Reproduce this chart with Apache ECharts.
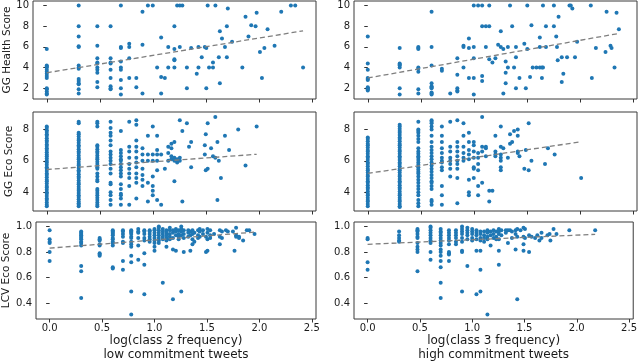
<!DOCTYPE html>
<html><head><meta charset="utf-8">
<script src="https://cdn.jsdelivr.net/npm/echarts@6/dist/echarts.min.js"></script>
<style>html,body{margin:0;padding:0;background:#fff}#c{width:640px;height:363px}</style>
</head><body><div id="c"></div>
<script>
// ---- tick values ----
const xTicks = [0, 0.5, 1.0, 1.5, 2.0, 2.5];
const healthTicks = [2, 4, 6, 8, 10];
const ggEcoTicks = [4, 6, 8];
const lcvTicks = [0.4, 0.6, 0.8, 1.0];

// ---- axis titles ----
const yNames = ['GG Health Score', 'GG Eco Score', 'LCV Eco Score'];
const xNames = ['log(class 2 frequency)\nlow commitment tweets', 'log(class 3 frequency)\nhigh commitment tweets'];

// ---- data: [x, [y values at that x]] ----
const healthLow = [
 [0,[5.8,4.2,4.1,4.0,3.8,3.6,3.4,3.2,3.0,2.0,1.9,1.7,1.5,1.4]],
 [0.301,[10,8,7,6,6.05,4.2,4.0,3.9,2.9,2.7,2.5,2.4,1.9,1.5]],
 [0.477,[8,6.1,4.9,4.5,4.4,4.0,3.8,3.5,2.6,2.1]],
 [0.602,[8,4.9,4.5,4.4,3.8,3.0,2.2,2.0,1.9]],
 [0.699,[10,6.0,5.9,4.6,4.0,3.8,2.8,2.0,1.4]],
 [0.778,[6.3,6.0,4.9,3.0]],
 [0.845,[3.0,2.1]],
 [0.903,[9.4,6.2,1.5]],
 [0.954,[10]],[1.0,[10]],[1.041,[4.0]],
 [1.079,[6.9,3.1,1.5]],[1.114,[3.0]],[1.146,[6.0,4.0]],
 [1.204,[8.0,5.8,4.8,4.7,4.0]],[1.23,[10]],[1.255,[10,6.0]],[1.279,[10]],
 [1.322,[4.0,2.0]],[1.362,[5.9]],[1.415,[3.4]],[1.431,[6.0,4.0]],[1.462,[5.0]],
 [1.491,[6.0]],[1.505,[5.9,2.0]],[1.518,[10]],[1.531,[4.0]],[1.568,[4.5,4.0]],
 [1.591,[10]],[1.623,[5.0]],[1.633,[7.5,2.5]],[1.653,[6.8]],[1.681,[6.0]],
 [1.699,[8.0,5.0]],[1.708,[9.7]],[1.748,[6.5]],[1.845,[4.0]],[1.875,[8.9]],
 [1.903,[7.0]],[1.929,[8.1]],[1.97,[8.0]],[1.98,[9.3]],[2.011,[5.5]],[2.03,[3.0]],
 [2.053,[5.9]],[2.083,[7.7]],[2.149,[6.1]],[2.212,[9.4]],[2.303,[10]],[2.344,[10]],[2.418,[4.0]]
];
const healthHigh = [
 [0,[7.0,4.4,3.8,3.0,2.9,2.8,2.1,2.0,1.9,1.8]],
 [0.301,[5.9,4.4,4.3,4.2,4.0,2.0,1.4]],
 [0.477,[6.0,5.9,5.8,4.0,3.9,3.6,1.9,1.5]],
 [0.602,[9.4,6.0,4.2,2.5,2.2,2.1,2.0,1.6,1.5,1.4]],
 [0.699,[3.9,3.7]],[0.778,[1.5]],[0.845,[4.9,3.3,2.0,1.8,1.7]],
 [0.903,[6.1,6.0,4.0]],[0.954,[6.8,5.9,3.0]],[1.0,[10,6.0,4.9,3.0,1.4]],
 [1.041,[10]],[1.079,[10,8.0,3.2,2.7]],[1.114,[8.0,6.0]],[1.146,[10,8.0,4.8]],
 [1.176,[4.5]],[1.204,[4.9]],[1.23,[6.2]],[1.255,[7.5,6.0]],[1.279,[5.8,1.5]],
 [1.301,[4.6,3.5,2.5]],[1.322,[6.0,4.0]],[1.342,[10]],[1.362,[8.0]],[1.38,[4.0]],
 [1.398,[6.0,5.0,2.0]],[1.431,[3.0]],[1.477,[6.3]],[1.491,[2.0]],[1.505,[10,5.8]],
 [1.531,[3.1]],[1.544,[8.1]],[1.556,[4.0]],[1.591,[4.0]],[1.623,[6.9,6.0,4.0]],
 [1.643,[4.0,3.0]],[1.653,[10,4.0]],[1.681,[8.0,6.0]],[1.756,[10,8.0]],[1.778,[7.0]],
 [1.785,[6.0]],[1.792,[4.7]],[1.8,[8.9]],[1.83,[5.0,2.6]],[1.845,[3.4]],[1.88,[5.0]],
 [1.903,[10]],[1.915,[10]],[1.93,[9.7]],[1.955,[5.0]],[1.975,[6.5]],[2.104,[10]],
 [2.114,[3.0]],[2.152,[5.9]],[2.243,[5.5]],[2.253,[9.4]],[2.29,[6.1]],[2.3,[5.9]],
 [2.328,[4.0]],[2.347,[9.3]],[2.369,[7.7]]
];
const ecoLow = [
 [0,[8.2,8.1,7.95,7.85,7.7,7.6,7.45,7.3,7.2,7.05,6.95,6.8,6.7,6.55,6.4,6.3,6.15,6.0,5.9,5.75,5.6,5.5,5.35,5.2,5.1,4.95,4.8,4.7,4.55,4.4,4.3,4.15,4.0,3.9,3.75,3.6,3.5,3.35,3.2,3.1]],
 [0.301,[8.5,8.4,7.8,7.7,7.55,7.4,7.3,7.15,7.0,6.9,6.75,6.6,6.5,6.35,6.2,6.1,5.95,5.8,5.7,5.55,5.4,5.3,5.15,5.0,4.9,4.75,4.6,4.5,4.35,4.2,4.1,3.95,3.8,3.7,3.55,3.4,3.3,3.2,3.1]],
 [0.477,[8.5,8.4,8.2,7.0,6.9,6.75,6.6,6.5,6.35,6.2,6.1,5.95,5.8,5.6,5.5,5.2,5.0,4.8,4.7,4.2,4.1,3.95,3.8,3.65,3.5,3.35,3.2,3.1]],
 [0.602,[8.5,8.1,7.8,7.6,7.3,7.0,6.6,6.4,6.2,6.0,5.8,5.5,5.2,4.6,4.5,4.0,3.8,3.5,3.2]],
 [0.699,[7.9,6.7,6.5,6.3,6.1,6.0,5.8,5.6,5.4,5.2,5.0,4.5,4.2,3.9,3.8,3.6,3.2]],
 [0.778,[8.5,6.9,6.6,6.2,5.8,5.5,5.2,4.9,4.4,3.2]],
 [0.845,[8.6,8.3,7.3,6.9,6.6,6.2,5.9,5.6,5.2,4.9,4.6,3.6]],
 [0.903,[6.8,6.4,6.0,5.5,5.1,4.8,4.4]],
 [0.954,[7.6,6.4,6.0,4.6,3.4]],
 [1.0,[8.2,6.4,6.0,5.0,4.4,4.1,3.8]],
 [1.041,[7.6,6.7,6.4,6.0,5.4,3.5]],
 [1.079,[6.4,3.2]],[1.114,[5.5]],[1.146,[6.9,6.5,6.0]],[1.176,[7.1,6.8,6.3,6.1]],
 [1.204,[7.2,6.2,6.0,4.7]],[1.23,[5.9,6.1]],[1.255,[8.6,6.2,6.0]],[1.279,[7.9,3.4]],
 [1.322,[8.4]],[1.342,[6.9]],[1.362,[7.2,5.6]],[1.491,[7.0,6.4]],[1.5,[7.7,5.4]],
 [1.518,[8.4,5.5]],[1.55,[6.8]],[1.568,[6.3]],[1.59,[8.8,6.2]],[1.61,[7.2,3.5]],
 [1.623,[6.0]],[1.643,[4.9]],[1.681,[7.6]],[1.72,[6.7]],[1.806,[8.0]],[1.875,[5.7]],[1.98,[8.2]]
];
const ecoHigh = [
 [0,[7.5,7.4,7.25,7.1,7.0,6.85,6.7,6.6,6.45,6.3,6.2,6.05,5.9,5.8,5.65,5.5,5.4,5.25,5.1,5.0,4.85,4.7,4.6,4.45,4.3,4.2,4.05,3.9,3.8,3.65,3.5,3.4,3.25,3.1]],
 [0.301,[8.3,8.2,8.05,7.9,7.8,7.65,7.5,7.4,7.25,7.1,7.0,6.85,6.7,6.6,6.45,6.3,6.2,6.05,5.9,5.8,5.65,5.5,5.4,5.25,5.1,5.0,4.85,4.7,4.6,4.45,4.3,4.2,4.05,3.9,3.8,3.65,3.5,3.4,3.25,3.1,3.05]],
 [0.477,[8.5,8.0,7.9,7.8,7.6,7.4,7.2,6.8,6.6,6.45,6.3,6.2,6.05,5.9,5.75,5.6,5.45,5.3,5.2,5.0,4.8,4.6,4.4,4.2,4.0,3.8,3.5,3.3,3.1]],
 [0.602,[8.6,8.5,8.4,8.2,8.0,7.6,7.2,6.9,6.7,6.5,6.3,6.1,5.9,5.7,5.5,5.3,5.1,4.9,4.7,4.6,4.4,4.2,3.5,3.4,3.2]],
 [0.699,[8.2,7.6,7.2,6.8,6.5,6.2,6.0,5.9,5.6,5.4,4.4,3.8,3.2]],
 [0.778,[8.5,6.9,6.6,6.2,6.0,5.8,5.5,5.0]],
 [0.845,[8.6,7.2,6.9,6.6,6.3,6.0,5.8,5.5,4.9,3.3]],
 [0.903,[8.4,7.6,6.9,6.5,6.2,6.0]],
 [0.954,[7.8,7.2,6.7,6.4,6.1,4.8,4.0,3.8]],
 [1.0,[7.2,7.0,6.6,6.2,5.6,5.5,4.9]],
 [1.041,[6.5,6.2,5.8,5.4,4.4,3.8]],
 [1.079,[8.8,6.9,6.6,4.6]],[1.114,[6.9,6.8,6.3]],[1.146,[4.1,3.4]],[1.176,[4.1]],
 [1.204,[7.6,6.6,6.4,6.3]],[1.255,[8.2,6.9,6.4,6.2,6.0,5.6,5.4]],[1.279,[6.8]],
 [1.322,[6.2]],[1.342,[7.7,7.1]],[1.362,[7.2]],[1.38,[7.9]],[1.415,[8.0,7.6,6.6,6.5]],
 [1.431,[6.3]],[1.477,[5.5]],[1.491,[6.7]],[1.518,[8.4,5.4]],[1.544,[6.0]],
 [1.672,[5.8]],[1.7,[6.8]],[1.763,[6.4]],[2.013,[4.9]]
];
const lcvLow = [
 [0,[0.97,0.90,0.88,0.87,0.80,0.73]],
 [0.301,[0.96,0.95,0.94,0.93,0.92,0.91,0.90,0.88,0.87,0.85,0.69,0.65,0.44]],
 [0.477,[0.91,0.90,0.89,0.86,0.85,0.79,0.78,0.77]],
 [0.602,[0.97,0.96,0.95,0.94,0.93,0.91,0.90,0.88,0.87,0.85,0.68,0.67]],
 [0.699,[0.97,0.96,0.94,0.92,0.88,0.87,0.73,0.66]],
 [0.778,[0.97,0.96,0.95,0.94,0.92,0.91,0.88,0.86,0.84,0.77,0.72,0.49,0.31]],
 [0.845,[0.98,0.96,0.95,0.91,0.85,0.74]],
 [0.903,[0.97,0.96,0.94,0.91,0.89,0.79,0.70,0.47]],
 [0.954,[0.97,0.96,0.94,0.92,0.90,0.88]],
 [1.0,[0.98,0.97,0.95,0.93,0.91,0.89,0.87,0.84,0.81]],
 [1.041,[1.0,0.99,0.97,0.95,0.93,0.91,0.89,0.87]],
 [1.079,[0.98,0.96,0.94,0.92,0.90,0.56]],
 [1.114,[0.97,0.95,0.93,0.91,0.89,0.84]],
 [1.146,[0.99,0.97,0.94,0.92,0.90]],
 [1.176,[0.97,0.95,0.91,0.82,0.43]],
 [1.204,[0.98,0.96,0.93,0.81]],
 [1.23,[0.97,0.94,0.92,0.90]],
 [1.255,[1.0,0.98,0.96,0.93,0.49]],
 [1.279,[0.97,0.94,0.91,0.80]],
 [1.322,[0.97,0.95,0.92]],[1.342,[0.96,0.93,0.81]],[1.362,[0.97,0.94,0.90,0.86]],
 [1.38,[0.95,0.88]],[1.415,[0.97,0.93,0.91]],[1.431,[0.98,0.96,0.92]],[1.462,[0.97,0.94]],
 [1.491,[0.92,0.80]],[1.505,[0.98,0.95,0.90,0.81]],[1.531,[0.97,0.93,0.91]],[1.568,[0.94]],
 [1.623,[0.97,0.92,0.86]],[1.643,[0.96,0.91]],[1.681,[0.97]],[1.699,[0.96]],[1.748,[0.96]],
 [1.763,[0.81]],[1.778,[0.99,0.93,0.92]],[1.806,[0.91,0.92]],[1.845,[0.89]],[1.88,[0.97]],
 [1.903,[0.97]],[1.954,[0.94]]
];
const lcvHigh = [
 [0,[0.91,0.90,0.72,0.66]],
 [0.301,[0.96,0.93,0.91,0.89,0.88]],
 [0.477,[0.98,0.97,0.96,0.94,0.92,0.91,0.87,0.84,0.82,0.80,0.65]],
 [0.602,[1.0,0.99,0.97,0.95,0.93,0.91,0.89,0.87,0.80,0.74]],
 [0.699,[0.98,0.96,0.95,0.93,0.91,0.89,0.87,0.85,0.82,0.80,0.77,0.73,0.68,0.56,0.44]],
 [0.778,[0.97,0.95,0.93,0.91,0.89,0.86,0.80,0.79,0.78,0.73]],
 [0.845,[0.97,0.95,0.93,0.91,0.88,0.86]],
 [0.903,[1.0,0.98,0.96,0.94,0.91,0.88,0.81,0.80,0.49]],
 [0.954,[0.99,0.97,0.95,0.93,0.90,0.69]],
 [1.0,[0.98,0.96,0.94,0.91,0.89]],
 [1.041,[0.97,0.95,0.93,0.90,0.81,0.47]],
 [1.079,[0.96,0.94,0.91,0.89,0.81,0.66,0.49]],
 [1.114,[0.96,0.93,0.91,0.88]],
 [1.146,[0.97,0.95,0.92,0.90,0.31]],
 [1.176,[0.96,0.93,0.85]],
 [1.204,[0.97,0.94,0.91]],
 [1.23,[0.96,0.92,0.90]],
 [1.255,[0.98,0.96,0.94,0.90,0.81,0.70]],
 [1.279,[0.97,0.93]],[1.322,[0.97,0.95]],[1.342,[0.97,0.87]],[1.362,[0.97]],
 [1.38,[0.96,0.91]],[1.415,[0.97,0.94,0.82]],[1.431,[0.98,0.92,0.43]],[1.462,[0.97]],
 [1.491,[0.99,0.92,0.86,0.81]],[1.505,[0.98,0.91]],[1.544,[0.93,0.80]],[1.568,[0.92]],
 [1.602,[0.91]],[1.623,[0.93]],[1.643,[0.89]],[1.663,[0.95,0.91]],[1.72,[0.93]],
 [1.74,[0.94]],[1.748,[0.89]],[1.778,[0.98]],[1.806,[0.94]],[1.929,[0.97]],[2.176,[0.97]]
];

// ---- fitted trend lines (endpoints) ----
const trendHealthLow = [[0, 3.5], [2.418, 7.55]];
const trendHealthHigh = [[0, 3.0], [2.369, 7.3]];
const trendEcoLow = [[0, 5.45], [1.98, 6.42]];
const trendEcoHigh = [[0, 5.2], [2.013, 7.22]];
const trendLcvLow = [[0, 0.83], [1.954, 0.955]];
const trendLcvHigh = [[0, 0.86], [2.176, 0.938]];

const panels = [
  {pts: healthLow, trend: trendHealthLow, yMin: 0.97, yMax: 10.43, yt: healthTicks, dec: 0},
  {pts: healthHigh, trend: trendHealthHigh, yMin: 0.97, yMax: 10.43, yt: healthTicks, dec: 0},
  {pts: ecoLow, trend: trendEcoLow, yMin: 2.8, yMax: 9.12, yt: ggEcoTicks, dec: 0},
  {pts: ecoHigh, trend: trendEcoHigh, yMin: 2.8, yMax: 9.12, yt: ggEcoTicks, dec: 0},
  {pts: lcvLow, trend: trendLcvLow, yMin: 0.2755, yMax: 1.0345, yt: lcvTicks, dec: 1},
  {pts: lcvHigh, trend: trendLcvHigh, yMin: 0.2755, yMax: 1.0345, yt: lcvTicks, dec: 1}
];

const gridTops = [1, 112, 222];
const gridHeights = [98, 99, 100];
const gridLefts = [33, 354];
const gridWidth = 283;
const font = 'DejaVu Sans';
const txt = '#1a1a1a';

const grid = [], xAxis = [], yAxis = [], series = [];
panels.forEach((p, i) => {
  const row = Math.floor(i / 2), col = i % 2;
  grid.push({left: gridLefts[col], top: gridTops[row], width: gridWidth, height: gridHeights[row],
    show: true, borderColor: '#3a3a3a', borderWidth: 1, backgroundColor: 'transparent'});
  xAxis.push({type: 'value', gridIndex: i, min: -0.13, max: 2.54,
    axisLine: {show: false}, splitLine: {show: false},
    axisTick: {show: true, customValues: xTicks, length: 3.5, lineStyle: {color: '#333'}},
    axisLabel: {show: row === 2, customValues: xTicks, formatter: v => v.toFixed(1),
      fontFamily: font, fontSize: 10, color: txt, margin: 4},
    name: row === 2 ? xNames[col] : '', nameLocation: 'middle', nameGap: 15,
    nameTextStyle: {fontFamily: font, fontSize: 12, color: txt, lineHeight: 14}
  });
  yAxis.push({type: 'value', gridIndex: i, min: p.yMin, max: p.yMax,
    axisLine: {show: false}, splitLine: {show: false},
    axisTick: {show: true, customValues: p.yt, length: 3.5, lineStyle: {color: '#333'}},
    axisLabel: {customValues: p.yt, formatter: v => v.toFixed(p.dec),
      fontFamily: font, fontSize: 10, color: txt, margin: 4},
    name: col === 0 ? yNames[row] : '', nameLocation: 'middle', nameGap: row === 2 ? 24 : 18,
    nameTextStyle: {fontFamily: font, fontSize: 10.5, color: txt}
  });
  const data = [];
  p.pts.forEach(([x, ys]) => ys.forEach(y => data.push([x, y])));
  series.push({type: 'scatter', xAxisIndex: i, yAxisIndex: i, data: data,
    symbol: 'circle', symbolSize: 4, itemStyle: {color: '#1f77b4', opacity: 1}, silent: true, z: 2});
  series.push({type: 'line', xAxisIndex: i, yAxisIndex: i, data: p.trend,
    symbol: 'none', lineStyle: {color: '#7f7f7f', width: 1.3, type: [5, 3]}, silent: true, z: 3});
});

const chart = echarts.init(document.getElementById('c'), null, {renderer: 'canvas'});
chart.setOption({animation: false, backgroundColor: '#fff', grid, xAxis, yAxis, series});
</script>
</body></html>
